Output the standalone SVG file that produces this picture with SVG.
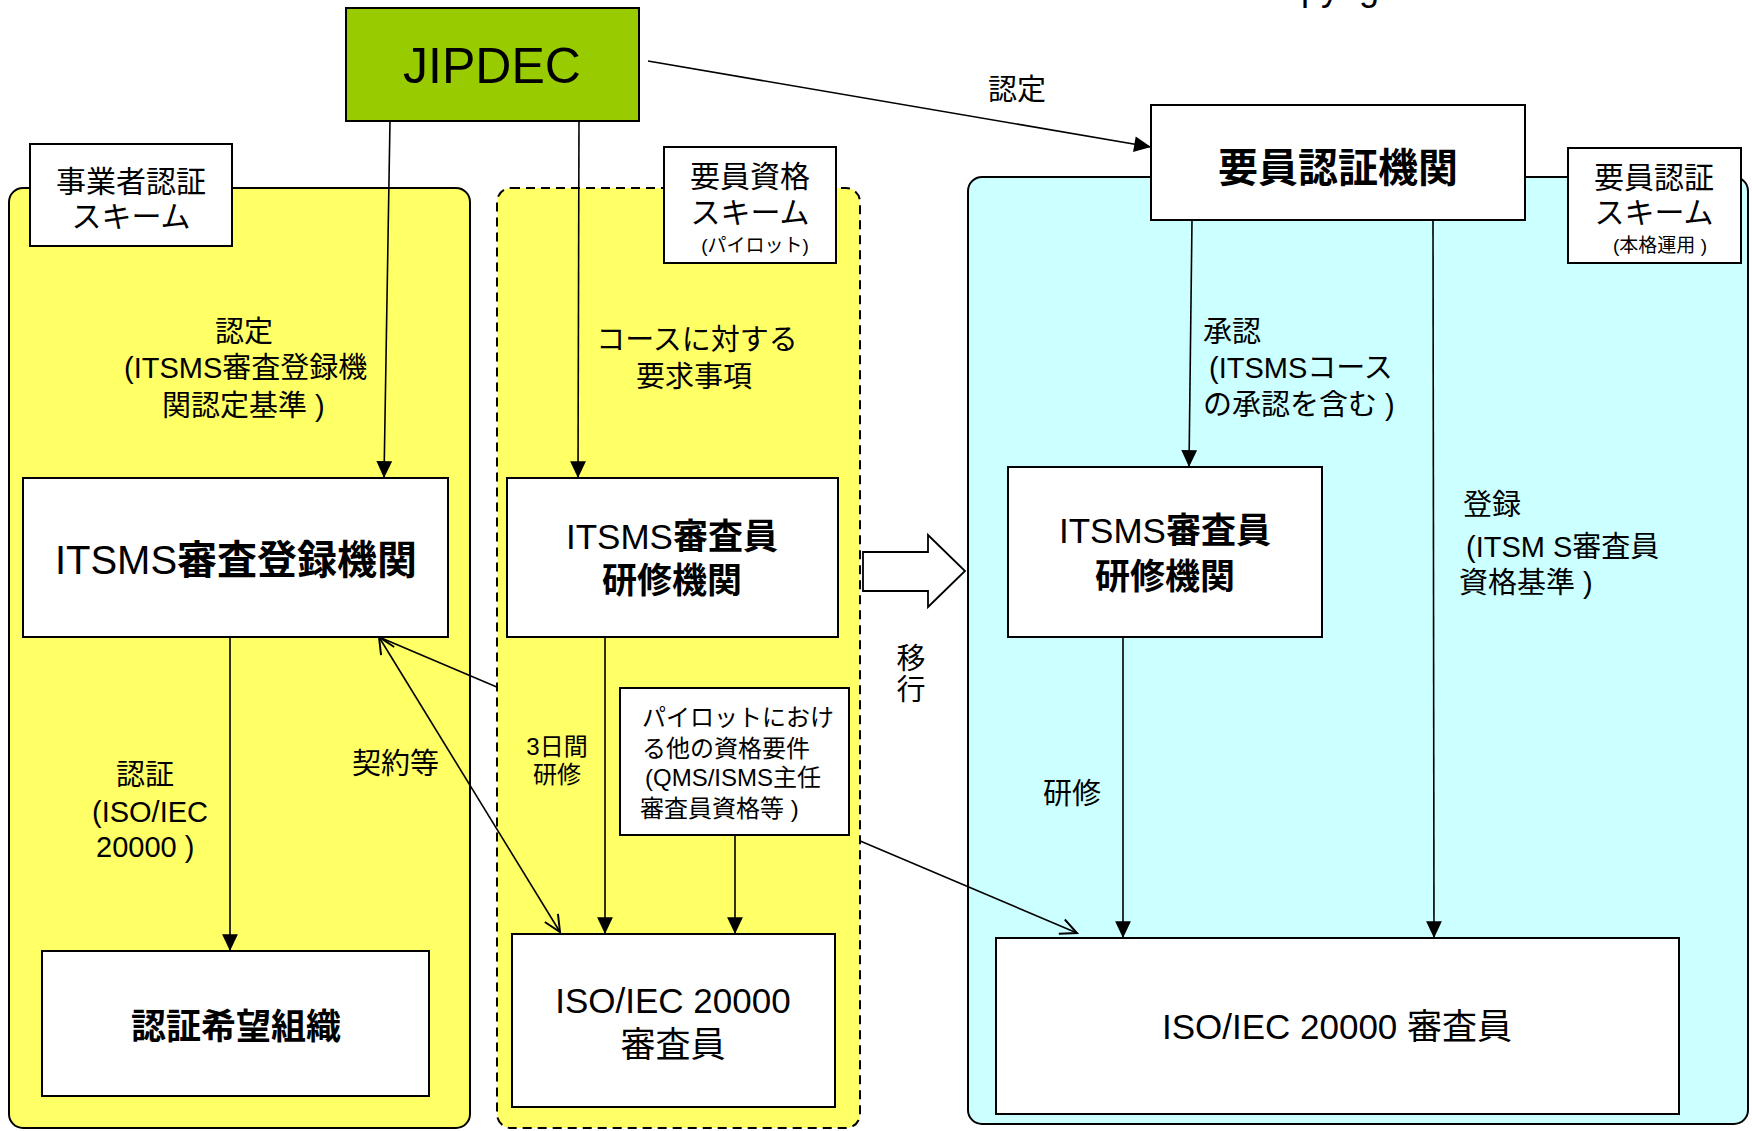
<svg xmlns="http://www.w3.org/2000/svg" width="1752" height="1131" viewBox="0 0 1752 1131">
<style>
text{font-family:"Liberation Sans","Noto Sans CJK JP",sans-serif;fill:#000}
.box{fill:#fff;stroke:#000;stroke-width:2}
.lbl{font-size:29px}
.big{font-size:35px}
.b{font-weight:bold}
.ln{stroke:#000;stroke-width:1.6;fill:none}
.c{text-anchor:middle}
</style>
<defs>
<marker id="fa" markerUnits="userSpaceOnUse" markerWidth="20" markerHeight="20" viewBox="-1 -9 19 18" refX="16" refY="0" orient="auto">
<path d="M0,-7.5 L16,0 L0,7.5 z" fill="#000"/>
</marker>
<marker id="oa" markerUnits="userSpaceOnUse" markerWidth="22" markerHeight="22" viewBox="-2 -10 20 20" refX="15" refY="0" orient="auto-start-reverse">
<path d="M0,-7 L15,0 L0,7" fill="none" stroke="#000" stroke-width="1.8"/>
</marker>
</defs>
<rect width="1752" height="1131" fill="#fff"/>
<text x="1255" y="0" style="font-size:36px">Copyright</text>

<g id="panel-business">
<rect x="9" y="188" width="461" height="940" rx="14" fill="#FFFF66" stroke="#000" stroke-width="2"/>
</g>
<g id="panel-personnel">
<rect x="968" y="177" width="780" height="947" rx="14" fill="#CCFFFF" stroke="#000" stroke-width="2"/>
</g>

<g id="connectors-under">
<line class="ln" x1="379" y1="637" x2="1077" y2="933" marker-end="url(#oa)"/>
</g>

<g id="panel-pilot">
<rect x="497" y="188" width="363" height="940" rx="14" fill="#FFFF66" stroke="#000" stroke-width="2" stroke-dasharray="9,6"/>
</g>

<g id="connectors">
<line class="ln" x1="390" y1="121" x2="384" y2="478" marker-end="url(#fa)"/>
<line class="ln" x1="579" y1="119" x2="578" y2="478" marker-end="url(#fa)"/>
<line class="ln" x1="648" y1="61" x2="1151" y2="147" marker-end="url(#fa)"/>
<line class="ln" x1="1192" y1="220" x2="1189" y2="467" marker-end="url(#fa)"/>
<line class="ln" x1="1433" y1="220" x2="1434" y2="938" marker-end="url(#fa)"/>
<line class="ln" x1="230" y1="637" x2="230" y2="951" marker-end="url(#fa)"/>
<line class="ln" x1="605" y1="637" x2="605" y2="934" marker-end="url(#fa)"/>
<line class="ln" x1="735" y1="835" x2="735" y2="934" marker-end="url(#fa)"/>
<line class="ln" x1="1123" y1="637" x2="1123" y2="938" marker-end="url(#fa)"/>
<line class="ln" x1="379" y1="637" x2="560" y2="932" marker-start="url(#oa)" marker-end="url(#oa)"/>
<polygon points="863,552 928,552 928,535 965,571 928,607 928,591 863,591" fill="#fff" stroke="#000" stroke-width="1.8"/>
</g>

<g id="labels">
<text class="lbl c" x="244" y="342">認定</text>
<text class="lbl" x="124" y="378">(ITSMS審査登録機</text>
<text class="lbl" x="162" y="416">関認定基準 )</text>
<text class="lbl c" x="697" y="350">コースに対する</text>
<text class="lbl c" x="694" y="387">要求事項</text>
<text class="lbl c" x="1017" y="100">認定</text>
<text class="lbl" x="1203" y="342">承認</text>
<text class="lbl" x="1209" y="378">(ITSMSコース</text>
<text class="lbl" x="1203" y="415">の承認を含む )</text>
<text class="lbl" x="1463" y="515">登録</text>
<text class="lbl" x="1466" y="557">(ITSM S審査員</text>
<text class="lbl" x="1459" y="593">資格基準 )</text>
<text class="lbl c" x="145" y="785">認証</text>
<text class="lbl" x="92" y="822">(ISO/IEC</text>
<text class="lbl" x="96" y="857">20000 )</text>
<text class="lbl" x="352" y="774">契約等</text>
<text class="c" x="557" y="755" style="font-size:24px">3日間</text>
<text class="c" x="557" y="783" style="font-size:24px">研修</text>
<text class="lbl c" x="911" y="669">移</text>
<text class="lbl c" x="911" y="700">行</text>
<text class="lbl c" x="1072" y="804">研修</text>
</g>

<g id="jipdec">
<rect x="346" y="8" width="293" height="113" fill="#99CC00" stroke="#000" stroke-width="2"/>
<text class="c" x="492" y="83" style="font-size:50px">JIPDEC</text>
</g>

<g id="tag-business">
<rect class="box" x="30" y="144" width="202" height="102"/>
<text class="c" x="131" y="192" style="font-size:30px">事業者認証</text>
<text class="c" x="131" y="227" style="font-size:30px">スキーム</text>
</g>

<g id="tag-pilot">
<rect class="box" x="664" y="147" width="172" height="116"/>
<text class="c" x="750" y="187" style="font-size:30px">要員資格</text>
<text class="c" x="750" y="223" style="font-size:30px">スキーム</text>
<text class="c" x="755" y="252" style="font-size:19px">(パイロット)</text>
</g>

<g id="tag-personnel">
<rect class="box" x="1568" y="148" width="173" height="115"/>
<text class="c" x="1654" y="188" style="font-size:30px">要員認証</text>
<text class="c" x="1654" y="223" style="font-size:30px">スキーム</text>
<text class="c" x="1660" y="252" style="font-size:19px">(本格運用 )</text>
</g>

<g id="cert-body">
<rect class="box" x="1151" y="105" width="374" height="115"/>
<text class="c b" x="1338" y="182" style="font-size:40px">要員認証機関</text>
</g>

<g id="registrar">
<rect class="box" x="23" y="478" width="425" height="159"/>
<text class="c" x="236" y="574" style="font-size:40px">ITSMS<tspan class="b">審査登録機関</tspan></text>
</g>

<g id="applicant">
<rect class="box" x="42" y="951" width="387" height="145"/>
<text class="c b big" x="236" y="1039">認証希望組織</text>
</g>

<g id="training-pilot">
<rect class="box" x="507" y="478" width="331" height="159"/>
<text class="c big" x="672" y="549">ITSMS<tspan class="b">審査員</tspan></text>
<text class="c b big" x="672" y="593">研修機関</text>
</g>

<g id="pilot-req">
<rect class="box" x="620" y="688" width="229" height="147"/>
<text x="642" y="726" style="font-size:24px">パイロットにおけ</text>
<text x="642" y="757" style="font-size:24px">る他の資格要件</text>
<text x="645" y="786" style="font-size:24px">(QMS/ISMS主任</text>
<text x="640" y="817" style="font-size:24px">審査員資格等 )</text>
</g>

<g id="auditor-pilot">
<rect class="box" x="512" y="934" width="323" height="173"/>
<text class="c big" x="673" y="1013">ISO/IEC 20000</text>
<text class="c big" x="673" y="1057">審査員</text>
</g>

<g id="training-full">
<rect class="box" x="1008" y="467" width="314" height="170"/>
<text class="c big" x="1165" y="543">ITSMS<tspan class="b">審査員</tspan></text>
<text class="c b big" x="1165" y="589">研修機関</text>
</g>

<g id="auditor-full">
<rect class="box" x="996" y="938" width="683" height="176"/>
<text class="c big" x="1337" y="1039">ISO/IEC 20000 審査員</text>
</g>
</svg>
